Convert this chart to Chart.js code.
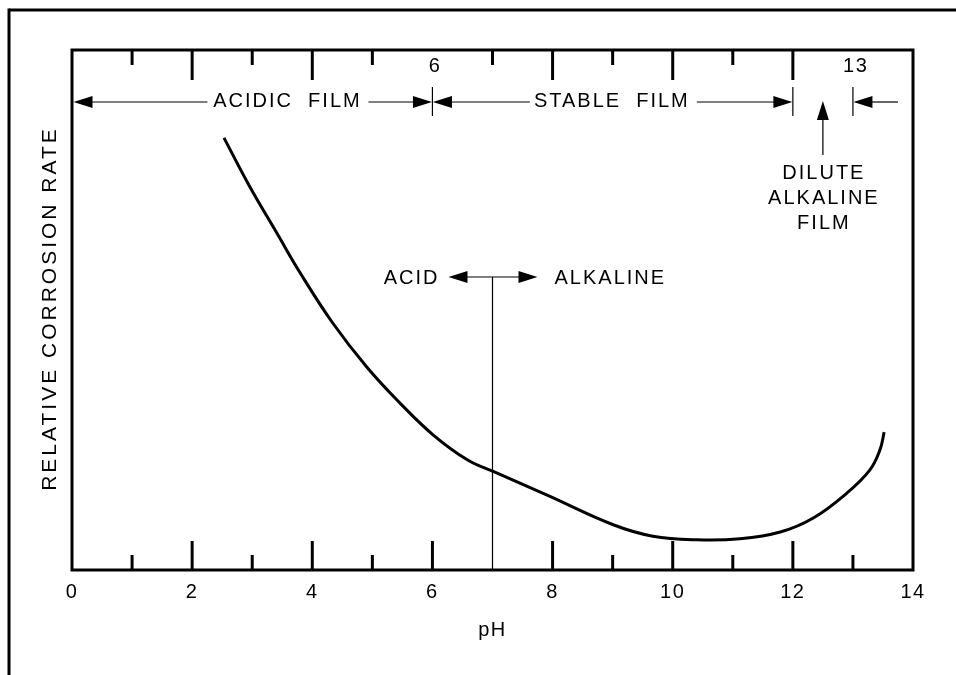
<!DOCTYPE html>
<html>
<head>
<meta charset="utf-8">
<script src="https://cdn.jsdelivr.net/npm/chart.js@4.4.1/dist/chart.umd.min.js"></script>
<style>
  html, body { margin: 0; padding: 0; background: #fff; }
  canvas { display: block; }
</style>
</head>
<body>
<canvas id="chartCorrosao" width="956" height="675"></canvas>
<script>
// curve
var phValues = [2.53, 2.96, 3.41, 3.80, 4.34, 4.91, 5.46, 6.01, 6.58, 7.04, 7.91, 9.01, 9.67, 10.40, 11.12, 11.79, 12.34, 12.90, 13.28, 13.45, 13.52];
var corrosionRate = [83.1, 73.7, 64.8, 57.1, 47.5, 39.0, 32.1, 26.0, 21.2, 18.8, 14.4, 8.7, 6.5, 5.8, 6.0, 7.3, 10.0, 14.8, 19.2, 23.1, 26.5];

// axis ticks
var xTickValues = [0, 2, 4, 6, 8, 10, 12, 14];
var topMajorTicks = [2, 4, 8, 10, 12];
var topMinorTicks = [1, 3, 5, 7, 9, 11];
var topTickLabels = [6, 13];
var bottomMajorTicks = [2, 4, 6, 8, 10, 12];
var bottomMinorTicks = [1, 3, 5, 9, 11, 13];
var neutralPh = 7;
var yTitle = 'RELATIVE CORROSION RATE';

var FONT = '"Liberation Sans", Arial, sans-serif';

function texto(ctx, str, x, y, size, spacing, align) {
    ctx.font = size + 'px ' + FONT;
    ctx.letterSpacing = spacing + 'px';
    ctx.textAlign = align || 'center';
    ctx.textBaseline = 'alphabetic';
    var dx = (align === 'left' || align === 'right') ? 0 : spacing / 2;
    ctx.fillText(str, x + dx, y);
    ctx.letterSpacing = '0px';
}

function seta(ctx, x, y, dir) {
    var L = 19, W = 6;
    ctx.beginPath();
    ctx.moveTo(x, y);
    if (dir === 'left') { ctx.lineTo(x + L, y - W); ctx.lineTo(x + L, y + W); }
    if (dir === 'right') { ctx.lineTo(x - L, y - W); ctx.lineTo(x - L, y + W); }
    if (dir === 'up') { ctx.lineTo(x - W, y + L); ctx.lineTo(x + W, y + L); }
    ctx.closePath();
    ctx.fill();
}

function linha(ctx, x1, y1, x2, y2, w) {
    ctx.lineWidth = w;
    ctx.beginPath();
    ctx.moveTo(x1, y1);
    ctx.lineTo(x2, y2);
    ctx.stroke();
}

var desenho = {
    id: 'desenho',
    beforeDraw: function (chart) {
        var ctx = chart.ctx;
        ctx.save();
        ctx.fillStyle = '#fff';
        ctx.fillRect(0, 0, chart.width, chart.height);
        ctx.restore();
        // slightly spaced digits, like the drafting font
        ctx.letterSpacing = '1.5px';
    },
    afterDraw: function (chart) {
        var ctx = chart.ctx, a = chart.chartArea, sx = chart.scales.x;
        var px = function (v) { return sx.getPixelForValue(v); };
        ctx.letterSpacing = '0px';
        ctx.save();
        ctx.strokeStyle = '#000';
        ctx.fillStyle = '#000';
        ctx.lineCap = 'butt';

        // outer frame
        linha(ctx, 9, 10, chart.width, 10, 3);
        linha(ctx, 9, 8.5, 9, chart.height, 3);

        // plot box
        ctx.lineWidth = 3;
        ctx.strokeRect(a.left, a.top, a.right - a.left, a.bottom - a.top);

        // y title
        ctx.save();
        ctx.translate(48, (a.top + a.bottom) / 2);
        ctx.rotate(-Math.PI / 2);
        texto(ctx, yTitle, 0, 7.5, 21, 3);
        ctx.restore();

        // tick marks inside the box
        topMajorTicks.forEach(function (v) { linha(ctx, px(v), a.top, px(v), a.top + 30, 3); });
        topMinorTicks.forEach(function (v) { linha(ctx, px(v), a.top, px(v), a.top + 15, 3); });
        bottomMajorTicks.forEach(function (v) { linha(ctx, px(v), a.bottom, px(v), a.bottom - 29, 3); });
        bottomMinorTicks.forEach(function (v) { linha(ctx, px(v), a.bottom, px(v), a.bottom - 15, 3); });
        topTickLabels.forEach(function (v) { texto(ctx, String(v), px(v) + 2, a.top + 22, 20, 1.5); });

        // film ranges
        var ry = a.top + 52;
        [6, 12, 13].forEach(function (v) { linha(ctx, px(v), a.top + 37, px(v), a.top + 66, 1.2); });
        seta(ctx, a.left + 1.5, ry, 'left');
        var acx = px(3.57);
        linha(ctx, a.left + 18, ry, acx - 79, ry, 1.2);
        linha(ctx, acx + 82, ry, px(6) - 18, ry, 1.2);
        seta(ctx, px(6) - 0.5, ry, 'right');
        texto(ctx, 'ACIDIC  FILM', acx, ry + 5, 20, 2);

        seta(ctx, px(6) + 0.5, ry, 'left');
        var stx = px(8.97);
        linha(ctx, px(6) + 18, ry, stx - 81, ry, 1.2);
        linha(ctx, stx + 86, ry, px(12) - 18, ry, 1.2);
        seta(ctx, px(12) - 0.5, ry, 'right');
        texto(ctx, 'STABLE  FILM', stx, ry + 5, 20, 2);

        seta(ctx, px(13) + 0.5, ry, 'left');
        linha(ctx, px(13) + 18, ry, px(13.75), ry, 1.2);

        var dx = px(12.5);
        seta(ctx, dx, a.top + 51, 'up');
        linha(ctx, dx, a.top + 68, dx, a.top + 105, 1.2);
        texto(ctx, 'DILUTE', dx, a.top + 129, 20, 2);
        texto(ctx, 'ALKALINE', dx, a.top + 154, 20, 2);
        texto(ctx, 'FILM', dx, a.top + 179, 20, 2);

        // acid / alkaline divide
        var nx = px(neutralPh), ny = a.top + 227;
        linha(ctx, nx, ny, nx, a.bottom, 1.2);
        linha(ctx, nx - 27, ny, nx + 27, ny, 1.2);
        seta(ctx, nx - 44, ny, 'left');
        seta(ctx, nx + 45, ny, 'right');
        texto(ctx, 'ACID', nx - 53, ny + 7, 20, 2, 'right');
        texto(ctx, 'ALKALINE', nx + 62, ny + 7, 20, 2, 'left');

        ctx.restore();
    }
};

var ctxCorrosao = document.getElementById('chartCorrosao');

var graficoCorrosao = new Chart(ctxCorrosao, {
    type: 'line',
    data: {
        datasets: [{
            label: 'Relative corrosion rate',
            data: phValues.map(function (p, i) { return { x: p, y: corrosionRate[i] }; }),
            borderColor: '#000',
            borderWidth: 3,
            pointRadius: 0,
            tension: 0.4,
            fill: false
        }]
    },
    options: {
        responsive: false,
        animation: false,
        events: [],
        layout: { padding: { left: 72, right: 43, top: 50, bottom: 29 } },
        plugins: {
            legend: { display: false },
            tooltip: { enabled: false }
        },
        scales: {
            x: {
                type: 'linear',
                min: 0,
                max: 14,
                afterBuildTicks: function (s) { s.ticks = xTickValues.map(function (v) { return { value: v }; }); },
                grid: { display: false, drawTicks: false },
                border: { display: false },
                ticks: { color: '#000', padding: 10, font: { family: FONT, size: 20 } },
                title: { display: true, text: 'pH', color: '#000', font: { family: FONT, size: 20 }, padding: { top: 4, bottom: 4 } }
            },
            y: {
                display: false,
                min: 0,
                max: 100
            }
        }
    },
    plugins: [desenho]
});
</script>
</body>
</html>
